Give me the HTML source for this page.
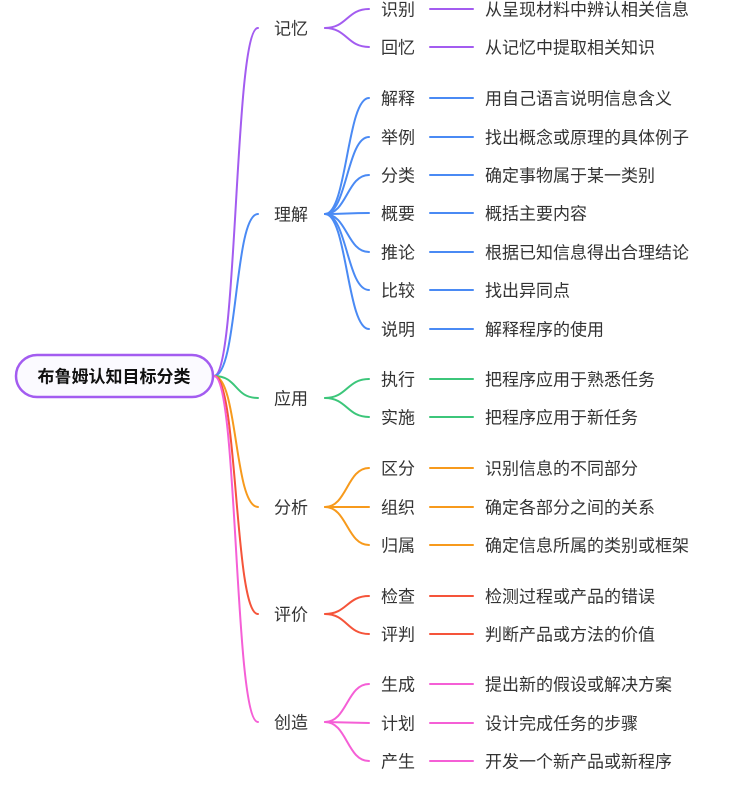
<!DOCTYPE html>
<html><head><meta charset="utf-8"><style>
body{margin:0;background:#fff;width:731px;height:789px;overflow:hidden}
svg text{font-family:"Liberation Sans","Noto Sans CJK SC",sans-serif;font-size:17px;fill:#333;dominant-baseline:central}
</style></head><body>
<svg width="731" height="789" xmlns="http://www.w3.org/2000/svg" fill="none" stroke-width="2" stroke-linecap="round">
<g stroke="#a35cf0">
<path d="M214 376 C238 376 234 28 258 28"/>
<path d="M325 28 C347 28 347 9 369 9"/><path d="M430 9 L473 9"/>
<path d="M325 28 C347 28 347 47 369 47"/><path d="M430 47 L473 47"/>
</g>
<text x="274" y="29">记忆</text>
<text x="381" y="10">识别</text><text x="485" y="10">从呈现材料中辨认相关信息</text>
<text x="381" y="48">回忆</text><text x="485" y="48">从记忆中提取相关知识</text>
<g stroke="#4a8af4">
<path d="M214 376 C238 376 234 214 258 214"/>
<path d="M325 214 C347 214 347 98 369 98"/><path d="M430 98 L473 98"/>
<path d="M325 214 C347 214 347 137 369 137"/><path d="M430 137 L473 137"/>
<path d="M325 214 C347 214 347 175 369 175"/><path d="M430 175 L473 175"/>
<path d="M325 214 C347 214 347 213 369 213"/><path d="M430 213 L473 213"/>
<path d="M325 214 C347 214 347 252 369 252"/><path d="M430 252 L473 252"/>
<path d="M325 214 C347 214 347 290 369 290"/><path d="M430 290 L473 290"/>
<path d="M325 214 C347 214 347 329 369 329"/><path d="M430 329 L473 329"/>
</g>
<text x="274" y="215">理解</text>
<text x="381" y="99">解释</text><text x="485" y="99">用自己语言说明信息含义</text>
<text x="381" y="138">举例</text><text x="485" y="138">找出概念或原理的具体例子</text>
<text x="381" y="176">分类</text><text x="485" y="176">确定事物属于某一类别</text>
<text x="381" y="214">概要</text><text x="485" y="214">概括主要内容</text>
<text x="381" y="253">推论</text><text x="485" y="253">根据已知信息得出合理结论</text>
<text x="381" y="291">比较</text><text x="485" y="291">找出异同点</text>
<text x="381" y="330">说明</text><text x="485" y="330">解释程序的使用</text>
<g stroke="#3cc67a">
<path d="M214 376 C238 376 234 398 258 398"/>
<path d="M325 398 C347 398 347 379 369 379"/><path d="M430 379 L473 379"/>
<path d="M325 398 C347 398 347 417 369 417"/><path d="M430 417 L473 417"/>
</g>
<text x="274" y="399">应用</text>
<text x="381" y="380">执行</text><text x="485" y="380">把程序应用于熟悉任务</text>
<text x="381" y="418">实施</text><text x="485" y="418">把程序应用于新任务</text>
<g stroke="#f79a1c">
<path d="M214 376 C238 376 234 507 258 507"/>
<path d="M325 507 C347 507 347 468 369 468"/><path d="M430 468 L473 468"/>
<path d="M325 507 L369 507"/><path d="M430 507 L473 507"/>
<path d="M325 507 C347 507 347 545 369 545"/><path d="M430 545 L473 545"/>
</g>
<text x="274" y="508">分析</text>
<text x="381" y="469">区分</text><text x="485" y="469">识别信息的不同部分</text>
<text x="381" y="508">组织</text><text x="485" y="508">确定各部分之间的关系</text>
<text x="381" y="546">归属</text><text x="485" y="546">确定信息所属的类别或框架</text>
<g stroke="#f5543a">
<path d="M214 376 C238 376 234 614 258 614"/>
<path d="M325 614 C347 614 347 596 369 596"/><path d="M430 596 L473 596"/>
<path d="M325 614 C347 614 347 634 369 634"/><path d="M430 634 L473 634"/>
</g>
<text x="274" y="615">评价</text>
<text x="381" y="597">检查</text><text x="485" y="597">检测过程或产品的错误</text>
<text x="381" y="635">评判</text><text x="485" y="635">判断产品或方法的价值</text>
<g stroke="#f55fd6">
<path d="M214 376 C238 376 234 722 258 722"/>
<path d="M325 722 C347 722 347 684 369 684"/><path d="M430 684 L473 684"/>
<path d="M325 722 L369 723"/><path d="M430 723 L473 723"/>
<path d="M325 722 C347 722 347 761 369 761"/><path d="M430 761 L473 761"/>
</g>
<text x="274" y="723">创造</text>
<text x="381" y="685">生成</text><text x="485" y="685">提出新的假设或解决方案</text>
<text x="381" y="724">计划</text><text x="485" y="724">设计完成任务的步骤</text>
<text x="381" y="762">产生</text><text x="485" y="762">开发一个新产品或新程序</text>
<rect x="16" y="355" width="197" height="42" rx="21" fill="#fbfaff" stroke="#a35cf0" stroke-width="2.5"/>
<text x="114" y="377" text-anchor="middle" style="font-weight:bold;font-size:17px;fill:#111">布鲁姆认知目标分类</text>
</svg>
</body></html>
